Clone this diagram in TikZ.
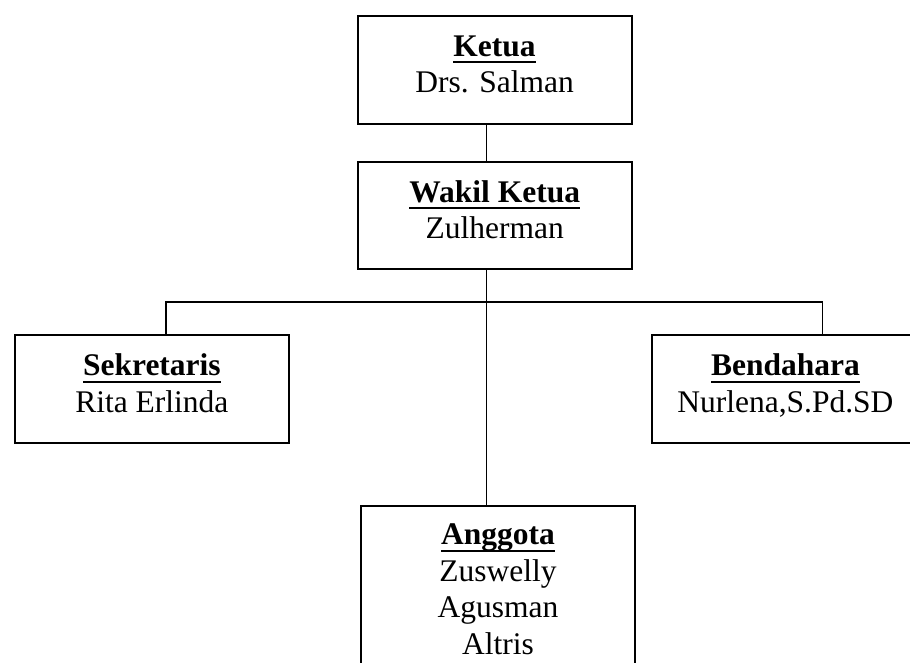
\documentclass[tikz,border=0pt]{standalone}
\usepackage{fontspec}
\setmainfont{Liberation Serif}
\newcommand\ulword[1]{\setbox0\hbox{\textbf{#1}}\rlap{\rule[-7pt]{\wd0}{2pt}}\box0}
\newcommand\lastdepth{\rule[-11.5pt]{0pt}{11.5pt}}
\begin{document}
\begin{tikzpicture}[x=1pt,y=-1pt,
  orgbox/.style={draw, line width=1.8pt, inner sep=0pt, anchor=north west,
    align=center, font=\fontsize{31.5}{36.6}\selectfont},
  conn/.style={line width=1.2pt}]
\useasboundingbox (0,0) rectangle (910,662);
\clip (0,0) rectangle (910,662);

\node[orgbox, minimum width=274pt, minimum height=108pt] (ketua) at (356.7,15)
  {\ulword{Ketua}\\Drs. Salman\lastdepth};
\node[orgbox, minimum width=274.3pt, minimum height=107.3pt] (wakil) at (356.7,160.7)
  {\ulword{Wakil Ketua}\\Zulherman\lastdepth};
\node[orgbox, minimum width=274pt, minimum height=108pt] (sek) at (14,334)
  {\ulword{Sekretaris}\\Rita Erlinda\lastdepth};
\node[orgbox, minimum width=267.6pt, minimum height=108pt] (bend) at (650.7,334)
  {\ulword{Bendahara}\\Nurlena,S.Pd.SD\lastdepth};
\node[orgbox, minimum width=274.3pt, minimum height=167.6pt] (angg) at (360,504.7)
  {\ulword{Anggota}\\Zuswelly\\Agusman\\Altris};

\coordinate (trunk) at (486.7,302);
\coordinate (busL) at (166,302);
\coordinate (busR) at (822.7,302);

\draw[conn] (ketua.south -| trunk) -- (wakil.north -| trunk);
\draw[conn] (wakil.south -| trunk) -- (angg.north -| trunk);
\draw[conn] (sek.north -| busL) -- (busL) -- (busR) -- (bend.north -| busR);
\end{tikzpicture}
\end{document}
